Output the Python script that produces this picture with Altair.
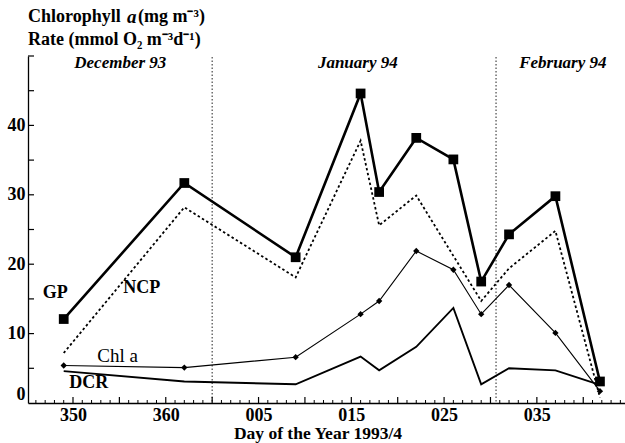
import altair as alt
import pandas as pd

# ---- data ----
days = [349, 362, 374, 381, 383, 387, 391, 394, 397, 402, 406.8]   # continuous day (005 = 370)
gp   = [12.1, 31.7, 21.0, 44.6, 30.4, 38.2, 35.1, 17.5, 24.3, 29.8, 3.1]
ncp  = [7.2, 28.2, 18.1, 37.8, 25.6, 29.9, 21.2, 14.7, 19.4, 24.8, 0.8]
chl  = [5.4, 5.1, 6.6, 12.8, 14.7, 21.9, 19.2, 12.8, 17.0, 10.1, 1.7]
dcr  = [4.6, 3.1, 2.7, 6.7, 4.7, 8.1, 13.7, 2.7, 5.0, 4.7, 2.6]

month_bounds = [365, 395.6]
month_names = ["December 93", "January 94", "February 94"]
month_x = [355.1, 380.7, 402.8]

series_labels = ["GP", "NCP", "Chl a", "DCR"]
series_label_x = [348.1, 357.4, 354.8, 351.7]
series_label_y = [15.8, 16.5, 6.8, 2.9]

x_tick_values = [350, 360, 370, 380, 390, 400]
y_tick_values = [0, 10, 20, 30, 40]

W, H = 597, 347
FONT = "'Liberation Serif', 'Times New Roman', Times, serif"

df = pd.DataFrame({"day": days, "GP": gp, "NCP": ncp, "Chl": chl, "DCR": dcr})

xscale = alt.Scale(domain=[345.15, 409.5], nice=False, zero=False)
yscale = alt.Scale(domain=[0, 50], nice=False)

xaxis = alt.Axis(
    values=x_tick_values, ticks=False, grid=False, domainColor="black", domainWidth=1.3,
    labelFont=FONT, labelFontSize=18, labelFontWeight="bold", labelColor="black",
    labelPadding=3,
    labelExpr="datum.value < 365 ? '' + datum.value : (((datum.value - 365) < 10) ? '00' : '0') + (datum.value - 365)",
    title=None,
)
yaxis = alt.Axis(
    values=y_tick_values, ticks=False, grid=False, domainColor="black", domainWidth=1.3,
    labelFont=FONT, labelFontSize=18, labelFontWeight="bold", labelColor="black",
    labelPadding=3, labelFlush=True, title=None,
)

X = alt.X("day:Q", scale=xscale, axis=xaxis)

def Y(field):
    return alt.Y(f"{field}:Q", scale=yscale, axis=yaxis)

base = alt.Chart(df)

ncp_line = base.mark_line(color="black", strokeWidth=1.8, strokeDash=[2.5, 2.5]).encode(x=X, y=Y("NCP"))
dcr_line = base.mark_line(color="black", strokeWidth=1.9).encode(x=X, y=Y("DCR"))
chl_line = base.mark_line(color="black", strokeWidth=1.1).encode(x=X, y=Y("Chl"))
chl_pts = base.mark_point(shape="diamond", filled=True, color="black", size=40, opacity=1).encode(x=X, y=Y("Chl"))
gp_line = base.mark_line(color="black", strokeWidth=2.6).encode(x=X, y=Y("GP"))
gp_pts = base.mark_square(color="black", size=95, opacity=1).encode(x=X, y=Y("GP"))

# month separators
bounds_df = pd.DataFrame({"d": month_bounds})
vlines = alt.Chart(bounds_df).mark_rule(color="#222", strokeWidth=1, strokeDash=[1.5, 2]).encode(
    x=alt.X("d:Q", scale=xscale, axis=xaxis), y=alt.value(1), y2=alt.value(H)
)

# month labels
months_df = pd.DataFrame({"name": month_names, "x": month_x})
month_text = alt.Chart(months_df).mark_text(
    font=FONT, fontSize=17, fontWeight="bold", fontStyle="italic", color="black", baseline="middle"
).encode(x=alt.X("x:Q", scale=xscale, axis=xaxis), y=alt.value(7), text="name:N")

# series labels
lab_df = pd.DataFrame({"t": series_labels, "x": series_label_x, "y": series_label_y,
                       "w": ["bold", "bold", "normal", "bold"]})
lab_bold = alt.Chart(lab_df[lab_df.w == "bold"]).mark_text(
    font=FONT, fontSize=18, fontWeight="bold", color="black", baseline="middle"
).encode(x=alt.X("x:Q", scale=xscale, axis=xaxis), y=alt.Y("y:Q", scale=yscale, axis=yaxis), text="t:N")
lab_norm = alt.Chart(lab_df[lab_df.w == "normal"]).mark_text(
    font=FONT, fontSize=19, fontWeight="normal", color="black", baseline="middle"
).encode(x=alt.X("x:Q", scale=xscale, axis=xaxis), y=alt.Y("y:Q", scale=yscale, axis=yaxis), text="t:N")

# inward tick marks on x axis (every day, taller every 5)
minor_days = [d for d in range(346, 410) if d % 5 != 0]
major_days = [d for d in range(350, 410, 5)]
xt_minor = alt.Chart(pd.DataFrame({"d": minor_days})).mark_rule(color="black", strokeWidth=1).encode(
    x=alt.X("d:Q", scale=xscale, axis=xaxis), y=alt.value(H - 3), y2=alt.value(H))
xt_major = alt.Chart(pd.DataFrame({"d": major_days})).mark_rule(color="black", strokeWidth=1.2).encode(
    x=alt.X("d:Q", scale=xscale, axis=xaxis), y=alt.value(H - 6), y2=alt.value(H))

# inward ticks on y axis (every 5)
y_ticks = [v for v in range(5, 51, 5)]
yt = alt.Chart(pd.DataFrame({"v": y_ticks})).mark_rule(color="black", strokeWidth=1.2).encode(
    y=alt.Y("v:Q", scale=yscale, axis=yaxis), x=alt.value(0), x2=alt.value(6))

# titles (text outside plot area)
title_df = pd.DataFrame({
    "t": ["Chlorophyll", "a", "(mg m\u207b\u00b3)", "Rate (mmol O\u2082 m\u207b\u00b3d\u207b\u00b9)"],
    "px": [0, 99, 110, 0],
    "py": [-39, -39, -39, -16],
    "st": ["normal", "italic", "normal", "normal"],
})
t_norm = alt.Chart(title_df[title_df.st == "normal"]).mark_text(
    font=FONT, fontSize=18, fontWeight="bold", color="black", align="left", baseline="middle"
).encode(x=alt.X("px:Q", scale=None), y=alt.Y("py:Q", scale=None), text="t:N")
t_ital = alt.Chart(title_df[title_df.st == "italic"]).mark_text(
    font=FONT, fontSize=19, fontWeight="bold", fontStyle="italic", color="black", align="left", baseline="middle"
).encode(x=alt.X("px:Q", scale=None), y=alt.Y("py:Q", scale=None), text="t:N")

xtitle_df = pd.DataFrame({"t": ["Day of the Year 1993/4"], "px": [290], "py": [H + 31]})
x_title = alt.Chart(xtitle_df).mark_text(
    font=FONT, fontSize=17.5, fontWeight="bold", color="black", align="center", baseline="middle"
).encode(x=alt.X("px:Q", scale=None), y=alt.Y("py:Q", scale=None), text="t:N")

chart = alt.layer(
    vlines, xt_minor, xt_major, yt,
    ncp_line, dcr_line, chl_line, chl_pts, gp_line, gp_pts,
    month_text, lab_bold, lab_norm, t_norm, t_ital, x_title,
).properties(
    width=W, height=H,
    autosize=alt.AutoSizeParams(type="none"),
    padding={"left": 28, "top": 56, "right": 0, "bottom": 40},
    background="white",
).configure_view(stroke=None)

chart.save("out.html", embed_options={"renderer": "svg", "actions": False})
